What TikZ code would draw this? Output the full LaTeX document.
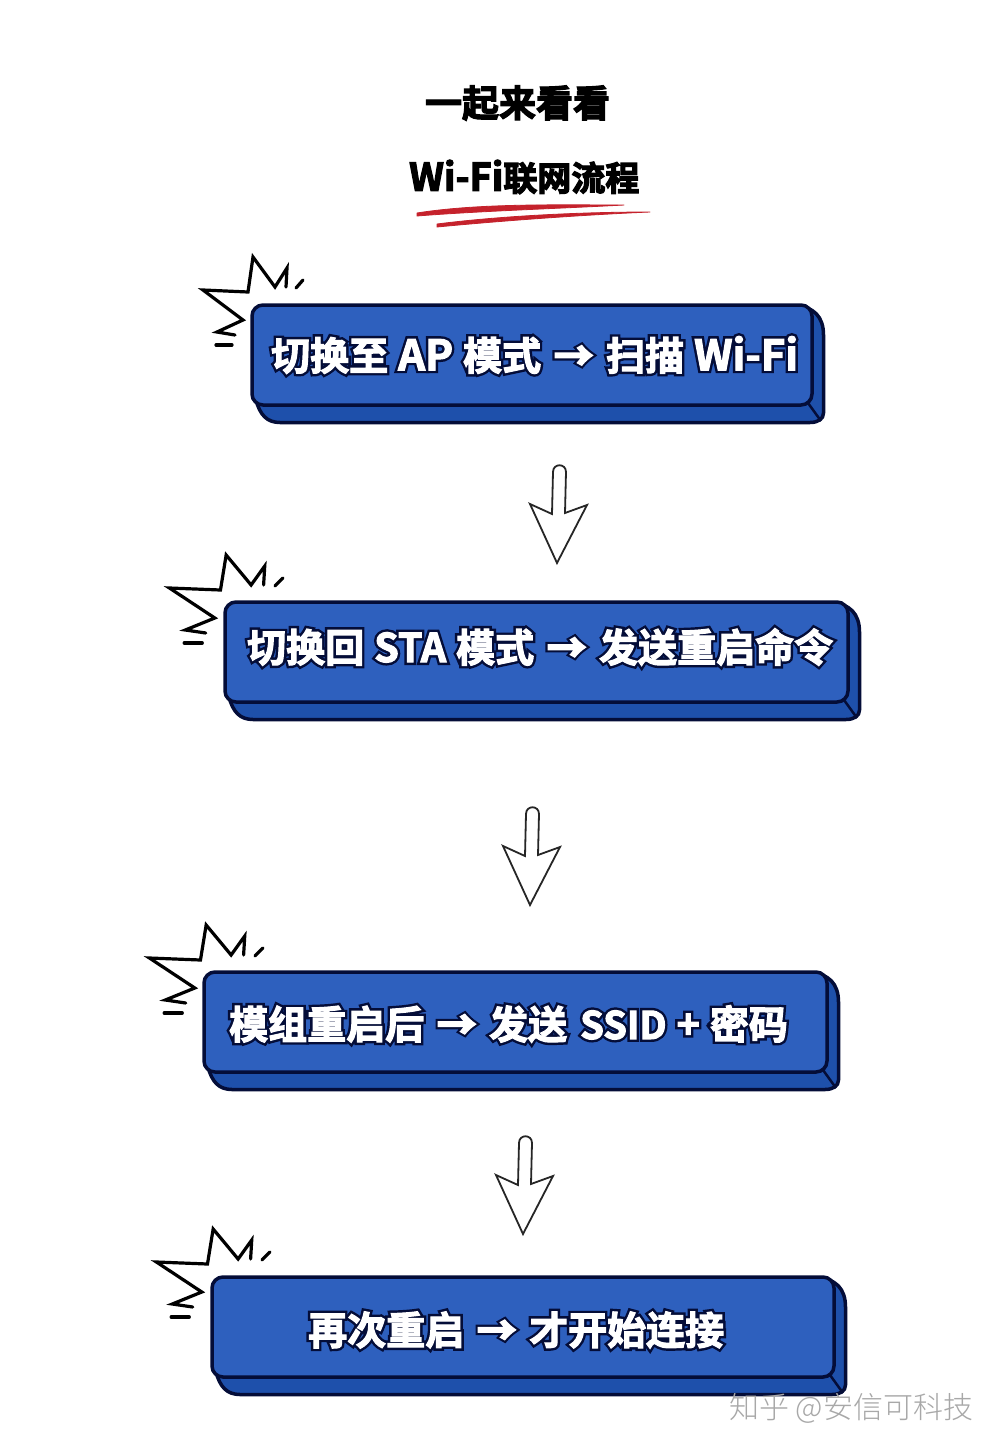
\documentclass[tikz,border=0pt]{standalone}
\usepackage{fontspec}
\usetikzlibrary{calc}
\newfontfamily\cjkb{Noto Sans CJK SC Bold}
\newfontfamily\cjkl{Noto Sans CJK SC Light}
\definecolor{keyfront}{HTML}{2E60BE}
\definecolor{keyside}{HTML}{1E50AB}
\definecolor{keyline}{HTML}{040D38}
\definecolor{wm}{HTML}{A8A8A8}
\definecolor{redmark}{HTML}{C5222C}
% outlined white lettering: a dark stroked layer under a white one
\newcommand{\basew}{1.1}
\newcommand{\arww}{2.2}
\newcommand{\outl}[1]{\rlap{\def\basew{6}\def\arww{6.5}\special{pdf:code q 2 Tr 6 w 0.016 0.05 0.22 RG 0.016 0.05 0.22 rg}#1\special{pdf:code Q}}\special{pdf:code q 2 Tr 1.1 w 1 1 1 RG 1 1 1 rg}#1\special{pdf:code Q}}
\newcommand{\heavy}[1]{\special{pdf:code q 2 Tr 1.2 w 0 0 0 RG}#1\special{pdf:code Q}}
\newcommand{\lat}[1]{{\fontsize{42}{42}\selectfont #1}}
\newcommand{\latb}[1]{{\fontsize{39.5}{39.5}\selectfont #1}}
\newcommand{\latc}[1]{{\fontsize{38}{38}\selectfont #1}}
\newcommand{\arw}{\special{pdf:code \arww\space w}→\special{pdf:code \basew\space w}}
\newcommand{\gp}{\hskip 10pt}
\newcommand{\gb}{\hskip 13pt}
\tikzset{
  x=1pt,y=-1pt,
  keybackst/.style={draw=keyline,fill=keyside,line width=3.5pt,line join=round},
  keyfrontst/.style={draw=keyline,fill=keyfront,line width=3.5pt,rounded corners=11pt},
  bevel/.style={draw=keyline,line width=2.5pt},
  burst/.style={draw=black,line width=3.2pt,line join=miter,line cap=round},
  downarrow/.style={draw=black!85,fill=white,line width=1.8pt,line join=miter},
  keytext/.style={anchor=west,inner sep=0pt,text=white,font=\cjkb\fontsize{39}{39}\selectfont},
}
% name, x0, y0, width, text x, text y, text
\newcommand{\keybox}[7]{%
  \begin{scope}[shift={(#2,#3)}]
    \draw[keybackst] ({#4-18},1) .. controls ({#4+2},1) and ({#4+11.5},12) .. ({#4+11.5},30) -- ({#4+11.5},108) .. controls ({#4+11.5},114) and ({#4+6},117.5) .. ({#4-2},117.5) -- (28,117.5) .. controls (15,117.5) and (8,110) .. (4,95) -- cycle;
    \draw[bevel] ({#4-4},98) -- ({#4+9},116);
    \draw[keyfrontst] (0,0) rectangle (#4,100);
  \end{scope}
  \node[keytext] (#1) at (#5,#6) {\outl{#7}};
}
% left edge, vertical shift, horizontal stretch
\newcommand{\burstmark}[3]{%
  \begin{scope}[shift={(#1,#2)},xscale=#3,shift={(-200,0)}]
    \draw[burst] (235,335) -- (217,332) -- (243,320) -- (203,290) -- (248,292) -- (253,257) -- (275,287) -- (287,268) -- (286,287);
    \draw[burst] (216,345) -- (232,345);
    \draw[burst] (296,288) -- (303,280);
  \end{scope}
}
\newcommand{\flowarrow}[2]{%
  \begin{scope}[shift={(#1,#2)}]
    \draw[downarrow] (552,514) -- (553,472) .. controls (553,463) and (566,463) .. (566,472) -- (565,513) -- (587,505) -- (557,563) -- (530,504) -- cycle;
  \end{scope}
}
\begin{document}
\begin{tikzpicture}
\useasboundingbox (0,0) rectangle (1000,1449);
\fill[white] (0,0) rectangle (1000,1449);

\node[inner sep=0pt,font=\cjkb\fontsize{37}{37}\selectfont] (title1) at (517.5,103) {\heavy{一起来看看}};
\node[anchor=west,inner sep=0pt,font=\cjkb\fontsize{34}{34}\selectfont] (title2) at (409,177) {\heavy{{\fontsize{38}{38}\selectfont Wi-Fi}联网流程}};

\filldraw[redmark,line width=0.8pt,line join=round] (417,213) .. controls (480,203) and (560,205) .. (624,205) .. controls (560,208.5) and (480,211) .. (417,216) -- cycle;
\filldraw[redmark,line width=0.8pt,line join=round] (437,224) .. controls (500,216) and (580,212) .. (650,212) .. controls (580,215) and (500,221) .. (437,227) -- cycle;

\burstmark{200}{0}{1}
\keybox{k1}{252}{305}{560}{271}{355}{切换至\gp\lat{AP}\gp 模式\gb\arw\gb 扫描\gp\lat{Wi-Fi}}
\flowarrow{0}{0}

\burstmark{166}{298}{1.135}
\keybox{k2}{225}{602}{623}{247}{647}{切换回\gp\latb{STA}\gp 模式\gb\arw\gb 发送重启命令}
\flowarrow{-27}{342}

\burstmark{146}{668}{1.135}
\keybox{k3}{204}{972}{623}{229}{1024}{模组重启后\gb\arw\gb 发送\gb\latc{SSID}\gp\latb{+}\gp 密码}
\flowarrow{-34}{671}

\burstmark{153}{972}{1.135}
\keybox{k4}{212}{1277}{622}{308}{1330}{再次重启\gb\arw\gb 才开始连接}

\node[anchor=west,inner sep=0pt,text=wm,font=\cjkl\fontsize{30}{30}\selectfont] (wmark) at (729,1408) {知乎 @安信可科技};
\end{tikzpicture}
\end{document}
